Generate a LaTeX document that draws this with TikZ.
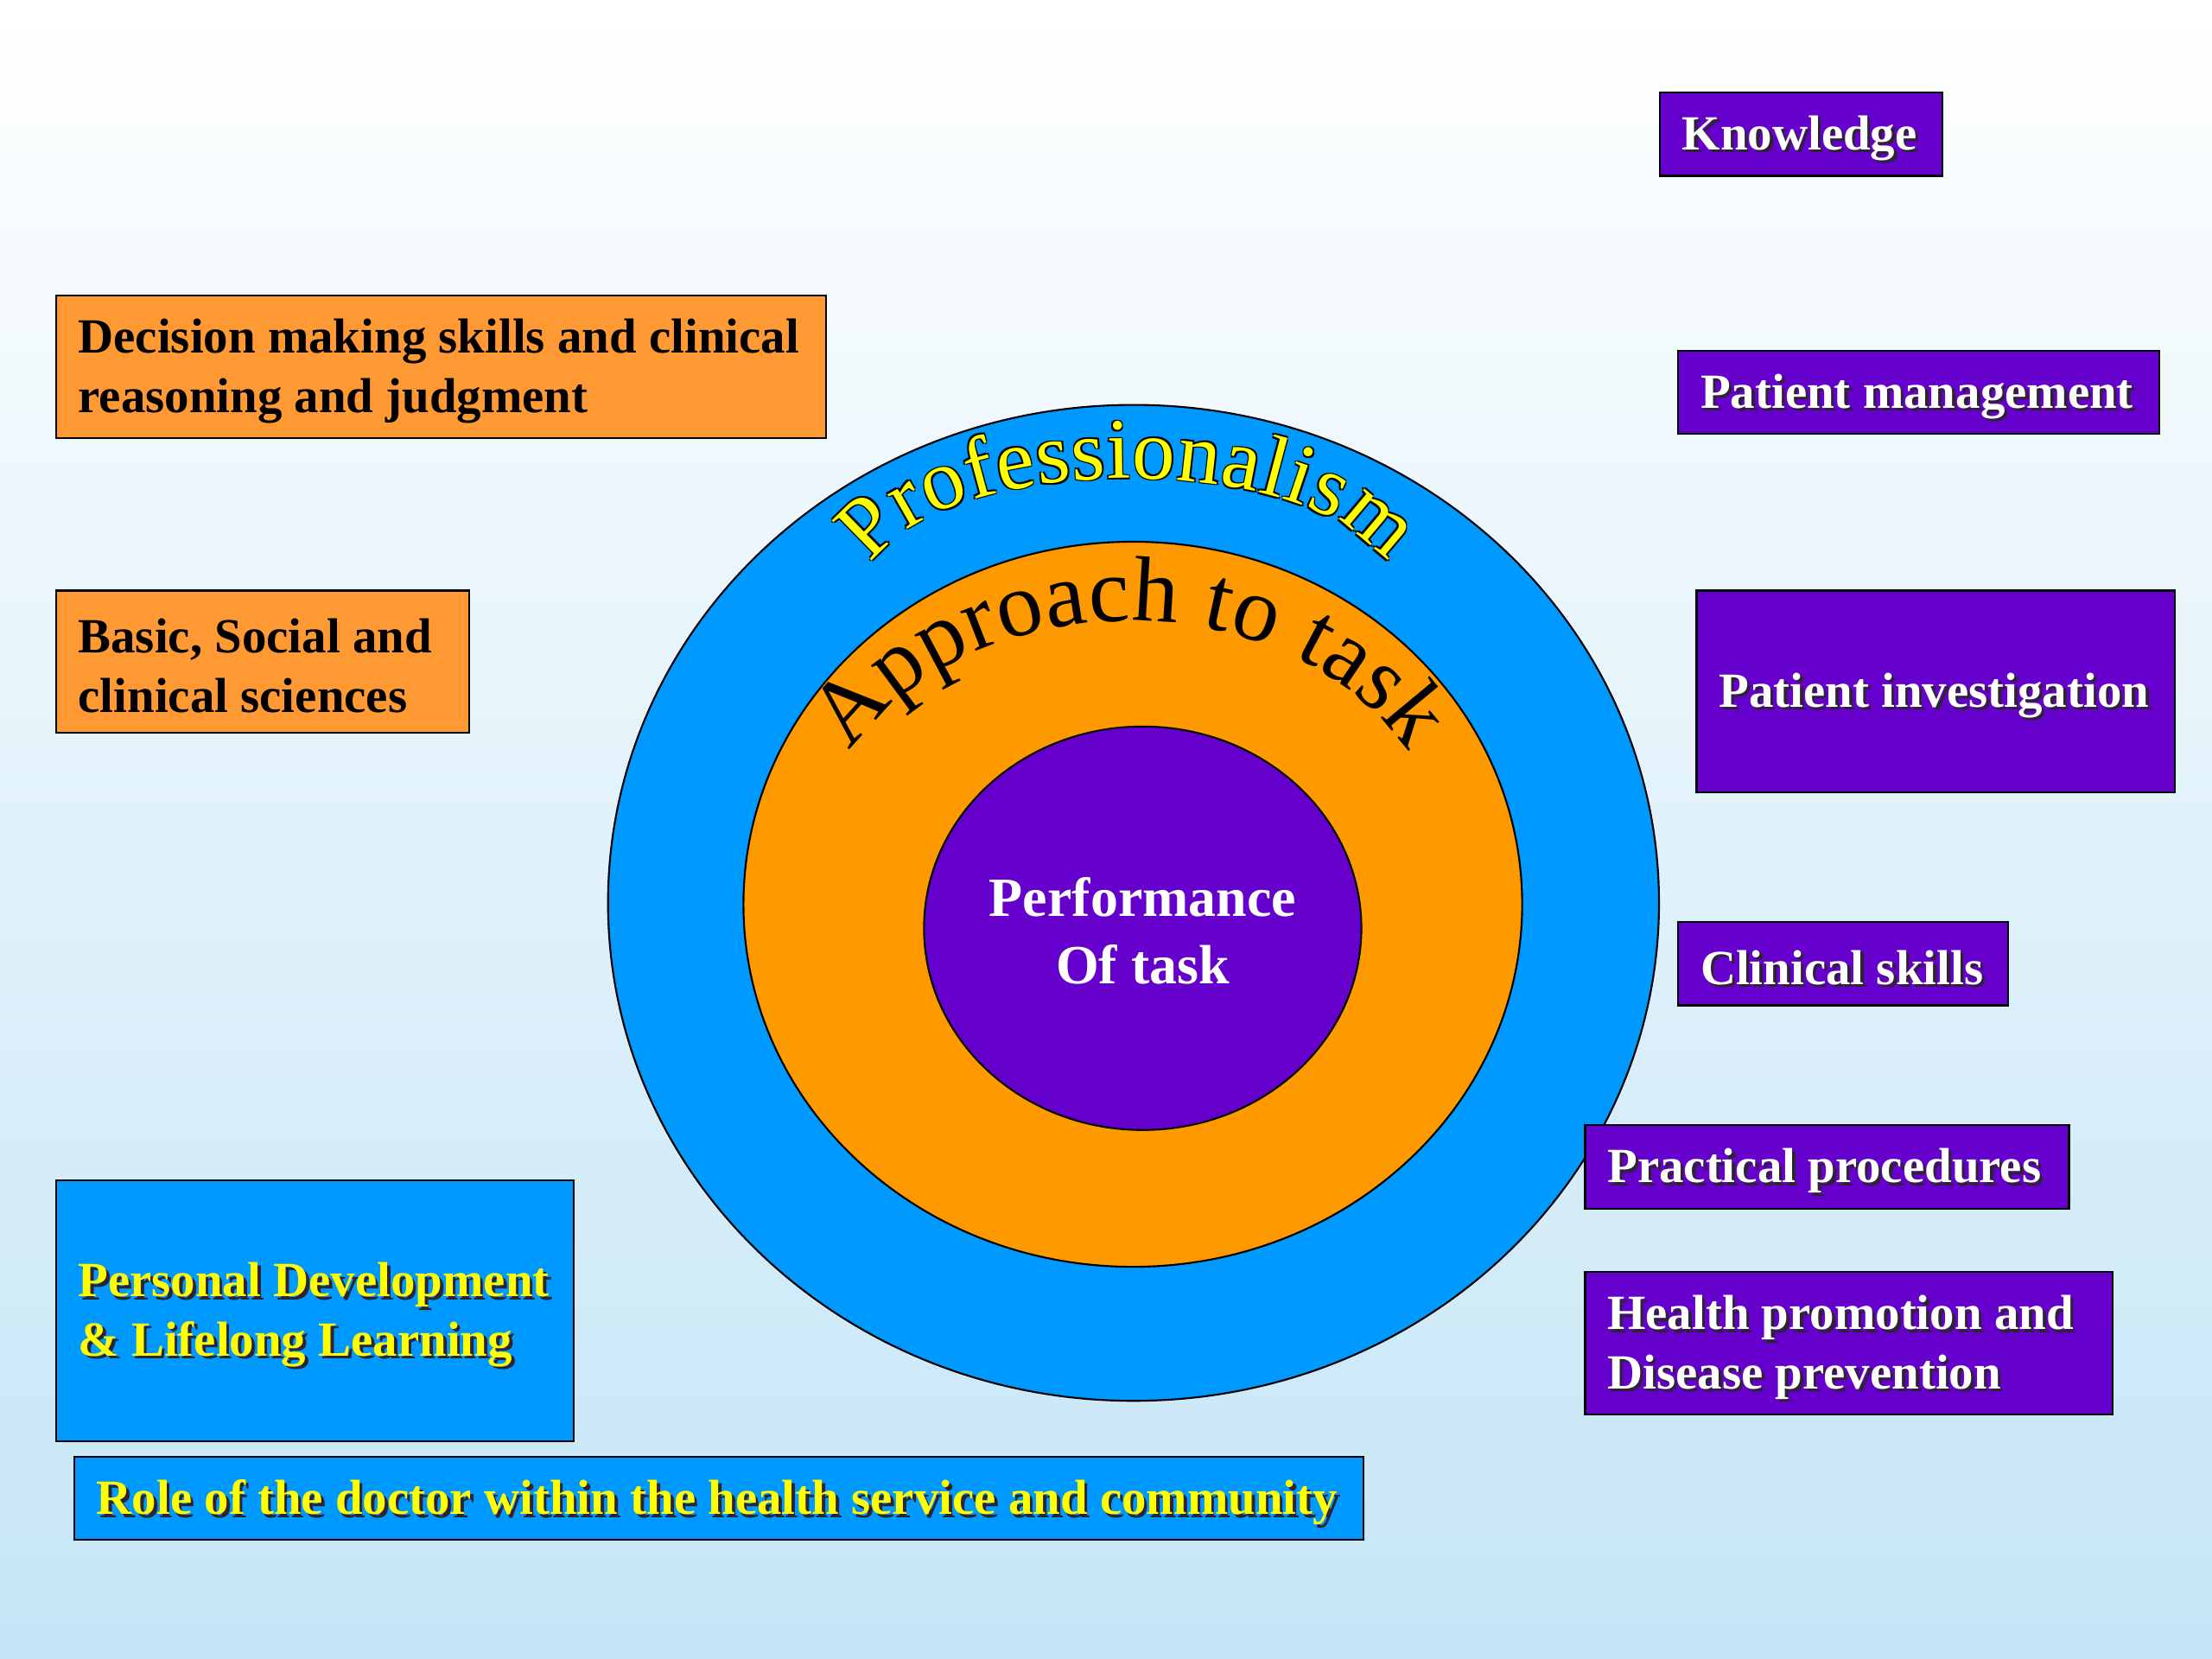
\documentclass[tikz,border=0pt]{standalone}
\usepackage{fontspec}
\setmainfont{Liberation Serif}
\usetikzlibrary{decorations.text,shapes.geometric}
\definecolor{bgbottom}{RGB}{196,229,246}
\definecolor{ringblue}{RGB}{0,153,255}
\definecolor{ringorange}{RGB}{255,153,0}
\definecolor{corepurple}{RGB}{102,0,204}
\definecolor{boxorange}{RGB}{255,153,51}
\definecolor{txtyellow}{RGB}{255,255,0}
\definecolor{shadowgray}{RGB}{45,35,50}
\newcommand\profarc[1]{%
  \path[decorate,decoration={text along path,text align=fit to path,
    text={|\fontsize{28}{28}\selectfont\color{#1}|Professionalism}}]
    (618,400) .. controls (668.8,318.7) and (931.2,318.7) .. (982,400);}
\begin{document}
\begin{tikzpicture}[x=0.459184pt,y=-0.459184pt,
  ring/.style={ellipse,draw=black,line width=0.6pt,inner sep=0pt},
  boxshape/.style={draw=black,line width=0.6pt,inner sep=0pt,anchor=north west},
  purplebox/.style={boxshape,fill=corepurple},
  orangebox/.style={boxshape,fill=boxorange},
  bluebox/.style={boxshape,fill=ringblue},
  boxtext/.style={anchor=west,align=left,inner sep=0pt,font=\fontsize{16}{19.3}\selectfont\bfseries},
  shadowtext/.style={boxtext,text=shadowgray}]
\useasboundingbox (0,0) rectangle (1568,1176);
\shade[top color=white,bottom color=bgbottom] (0,0) rectangle (1568,1176);

% concentric rings
\node[ring,fill=ringblue,minimum width=342.09pt,minimum height=324.18pt] (outer) at (803.5,640) {};
\node[ring,fill=ringorange,minimum width=253.47pt,minimum height=236.02pt] (middle) at (803,641) {};
\node[ring,fill=corepurple,minimum width=142.35pt,minimum height=131.33pt] (inner) at (810,658) {};

% arc texts
\foreach \dx/\dy in {0.45/0.45,-0.45/0.45,0.45/-0.45,-0.45/-0.45}{
  \begin{scope}[shift={(\dx pt,\dy pt)}]\profarc{black}\end{scope}}
\profarc{txtyellow}
\path[decorate,decoration={text along path,text align=fit to path,
    text={|\fontsize{30}{30}\selectfont|Approach to task}}]
    (603,533) .. controls (690,409) and (912,409) .. (998,533);

\node[font=\fontsize{18}{22}\selectfont\bfseries,text=white,align=center,inner sep=0pt] (perf) at (810,660) {Performance\\Of task};

% right purple boxes
\node[purplebox,minimum width=91.84pt,minimum height=27.09pt] (kn) at (1176,65) {};
\node[shadowtext] (kns) at ([xshift=8.35pt,yshift=-2.3pt]kn.west) {Knowledge};
\node[boxtext,text=white] (knt) at ([xshift=7.35pt,yshift=-1.3pt]kn.west) {Knowledge};

\node[purplebox,minimum width=156.58pt,minimum height=27.09pt] (pm) at (1189,248) {};
\node[shadowtext] (pms) at ([xshift=8.35pt,yshift=-2.3pt]pm.west) {Patient management};
\node[boxtext,text=white] (pmt) at ([xshift=7.35pt,yshift=-1.3pt]pm.west) {Patient management};

\node[purplebox,minimum width=155.66pt,minimum height=65.66pt] (pi) at (1202,418) {};
\node[shadowtext] (pis) at ([xshift=8.35pt,yshift=-2.3pt]pi.west) {Patient investigation};
\node[boxtext,text=white] (pit) at ([xshift=7.35pt,yshift=-1.3pt]pi.west) {Patient investigation};

\node[purplebox,minimum width=107.45pt,minimum height=27.09pt] (cs) at (1189,653) {};
\node[shadowtext] (css) at ([xshift=8.35pt,yshift=-2.3pt]cs.west) {Clinical skills};
\node[boxtext,text=white] (cst) at ([xshift=7.35pt,yshift=-1.3pt]cs.west) {Clinical skills};

\node[purplebox,minimum width=157.50pt,minimum height=27.09pt] (pp) at (1123,797) {};
\node[shadowtext] (pps) at ([xshift=8.35pt,yshift=-2.3pt]pp.west) {Practical procedures};
\node[boxtext,text=white] (ppt) at ([xshift=7.35pt,yshift=-1.3pt]pp.west) {Practical procedures};

\node[purplebox,minimum width=171.73pt,minimum height=46.38pt] (hp) at (1123,901) {};
\node[shadowtext] (hps) at ([xshift=8.35pt,yshift=-2.3pt]hp.west) {Health promotion and\\Disease prevention};
\node[boxtext,text=white] (hpt) at ([xshift=7.35pt,yshift=-1.3pt]hp.west) {Health promotion and\\Disease prevention};

% left orange boxes
\node[orangebox,minimum width=250.71pt,minimum height=46.38pt] (dm) at (39,209) {};
\node[boxtext,text=black] (dmt) at ([xshift=7.35pt,yshift=-1.3pt]dm.west) {Decision making skills and clinical\\reasoning and judgment};

\node[orangebox,minimum width=134.54pt,minimum height=46.38pt] (bs) at (39,418) {};
\node[boxtext,text=black] (bst) at ([xshift=7.35pt,yshift=-1.3pt]bs.west) {Basic, Social and\\clinical sciences};

% blue boxes
\node[bluebox,minimum width=168.52pt,minimum height=84.95pt] (pd) at (39,836) {};
\node[shadowtext] (pds) at ([xshift=8.35pt,yshift=-2.3pt]pd.west) {Personal Development\\\& Lifelong Learning};
\node[boxtext,text=txtyellow] (pdt) at ([xshift=7.35pt,yshift=-1.3pt]pd.west) {Personal Development\\\& Lifelong Learning};

\node[bluebox,minimum width=419.69pt,minimum height=27.09pt] (rd) at (52,1032) {};
\node[shadowtext] (rds) at ([xshift=8.35pt,yshift=-2.3pt]rd.west) {Role of the doctor within the health service and community};
\node[boxtext,text=txtyellow] (rdt) at ([xshift=7.35pt,yshift=-1.3pt]rd.west) {Role of the doctor within the health service and community};
\end{tikzpicture}
\end{document}
